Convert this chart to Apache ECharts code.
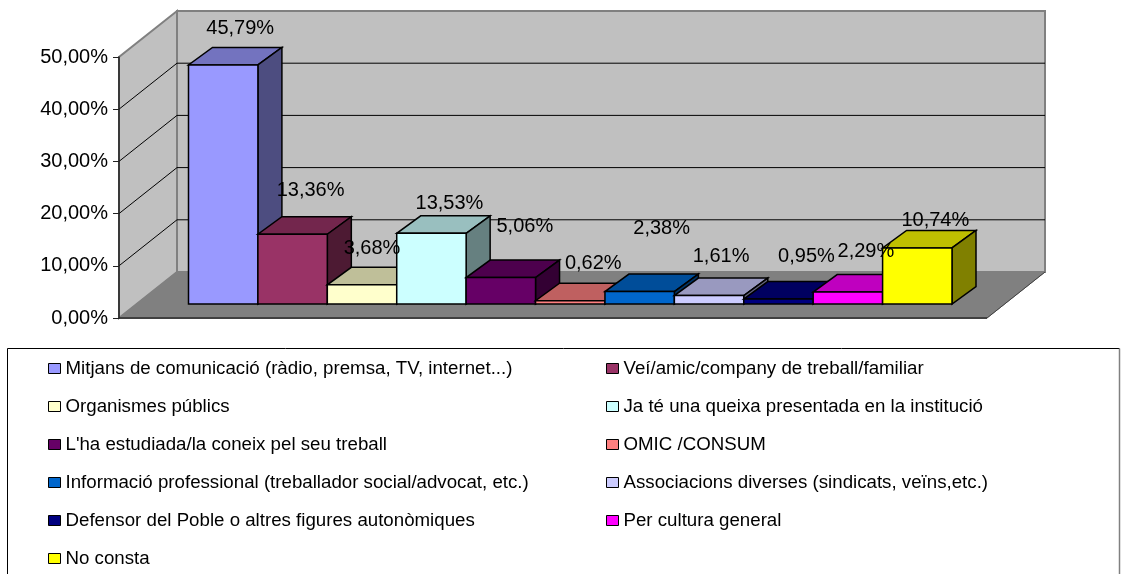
<!DOCTYPE html>
<html>
<head>
<meta charset="utf-8">
<script src="https://cdn.jsdelivr.net/npm/echarts@6/dist/echarts.min.js"></script>
<style>
  html, body { margin: 0; padding: 0; background: #fff; }
  #chart { width: 1122px; height: 574px; }
</style>
</head>
<body>
<div id="chart"></div>
<script>
const categories = [
  'Mitjans de comunicació (ràdio, premsa, TV, internet...)',
  'Veí/amic/company de treball/familiar',
  'Organismes públics',
  'Ja té una queixa presentada en la institució',
  "L'ha estudiada/la coneix pel seu treball",
  'OMIC /CONSUM',
  'Informació professional (treballador social/advocat, etc.)',
  'Associacions diverses (sindicats, veïns,etc.)',
  'Defensor del Poble o altres figures autonòmiques',
  'Per cultura general',
  'No consta'
];
const values = [45.79, 13.36, 3.68, 13.53, 5.06, 0.62, 2.38, 1.61, 0.95, 2.29, 10.74];
const ticks = [0, 10, 20, 30, 40, 50];

// front, top and side face of each bar
const frontColors = ['#9999FF', '#993366', '#FFFFCC', '#CCFFFF', '#660066', '#FF8080', '#0066CC', '#CCCCFF', '#000080', '#FF00FF', '#FFFF00'];
const topColors = ['#7373BF', '#73264D', '#BFBF99', '#99BFBF', '#4D004D', '#BF6060', '#004D99', '#9999BF', '#000060', '#BF00BF', '#BFBF00'];
const sideColors = ['#4D4D80', '#4D1A33', '#808066', '#668080', '#330033', '#804040', '#003366', '#666680', '#000040', '#800080', '#808000'];

// excel leaves the data labels wandering around, these are offsets from the top of each bar
const labelDx = [17, 18, 10, 18, 24, 23, 22, 12, 28, 18, 18];
const labelDy = [-36, -44, -36, -30, -51, -37, -63, -39, -43, -41, -27];

const WALL_DX = 58;
const WALL_DY = -46;
const BAR_DX = 24;
const BAR_DY = -17.5;
const FONT = '"Liberation Sans", Arial, sans-serif';

function percent(v) {
  return v.toFixed(2).replace('.', ',') + '%';
}

function poly(points, fill, stroke, lineWidth) {
  return {
    type: 'polygon',
    shape: { points: points },
    style: { fill: fill, stroke: stroke, lineWidth: lineWidth || 1, lineJoin: 'miter' }
  };
}

function renderWalls(params, api) {
  let cs = params.coordSys;
  let left = cs.x;
  let right = cs.x + cs.width;
  let y0 = api.coord([0, 0])[1];
  let yTop = api.coord([0, ticks[ticks.length - 1]])[1];
  let y = api.coord([0, api.value(1)])[1];
  let children = [];
  if (params.dataIndex === 0) {
    children.push(poly([[left + WALL_DX, y0 + WALL_DY], [right + WALL_DX, y0 + WALL_DY], [right + WALL_DX, yTop + WALL_DY], [left + WALL_DX, yTop + WALL_DY]], '#C0C0C0', '#808080', 2));
    children.push(poly([[left, y0], [left + WALL_DX, y0 + WALL_DY], [left + WALL_DX, yTop + WALL_DY], [left, yTop]], '#C0C0C0', '#808080', 2));
    children.push(poly([[left, y0], [right, y0], [right + WALL_DX, y0 + WALL_DY], [left + WALL_DX, y0 + WALL_DY]], '#808080', '#808080', 1));
    children.push({ type: 'line', shape: { x1: left, y1: y0, x2: right, y2: y0 }, style: { stroke: '#404040', lineWidth: 2 } });
    children.push({ type: 'line', shape: { x1: right, y1: y0, x2: right + WALL_DX, y2: y0 + WALL_DY }, style: { stroke: '#404040', lineWidth: 1 } });
  } else if (api.value(1) !== ticks[ticks.length - 1]) {
    children.push({
      type: 'polyline',
      shape: { points: [[left, y], [left + WALL_DX, y + WALL_DY], [right + WALL_DX, y + WALL_DY]] },
      style: { fill: null, stroke: '#000', lineWidth: 1 }
    });
  }
  return { type: 'group', children: children };
}

function renderBar(params, api) {
  let i = api.value(0);
  let v = api.value(1);
  let top = api.coord([i, v]);
  let bottom = api.coord([i, 0]);
  let w = api.size([1, 0])[0];
  let x1 = top[0] - w / 2;
  let x2 = top[0] + w / 2;
  let y1 = top[1];
  let y2 = bottom[1];
  return {
    type: 'group',
    children: [
      poly([[x1, y1], [x2, y1], [x2 + BAR_DX, y1 + BAR_DY], [x1 + BAR_DX, y1 + BAR_DY]], topColors[i], '#000', 1.5),
      poly([[x2, y1], [x2, y2], [x2 + BAR_DX, y2 + BAR_DY], [x2 + BAR_DX, y1 + BAR_DY]], sideColors[i], '#000', 1.5),
      poly([[x1, y1], [x2, y1], [x2, y2], [x1, y2]], frontColors[i], '#000', 1.5),
      {
        type: 'text',
        z2: 100,
        style: {
          x: top[0] + labelDx[i],
          y: y1 + labelDy[i],
          text: percent(v),
          fill: '#000',
          font: '20px ' + FONT,
          align: 'center',
          verticalAlign: 'middle'
        }
      }
    ]
  };
}

let series = [{
  name: 'walls',
  type: 'custom',
  xAxisIndex: 0,
  yAxisIndex: 0,
  silent: true,
  renderItem: renderWalls,
  data: ticks.map(t => [0, t])
}];

categories.forEach((name, i) => {
  series.push({
    name: name,
    type: 'custom',
    xAxisIndex: 1,
    yAxisIndex: 1,
    renderItem: renderBar,
    itemStyle: { color: frontColors[i] },
    data: [[i, values[i]]]
  });
});

function legendFor(left, names) {
  return {
    left: left,
    top: 359,
    orient: 'vertical',
    padding: 0,
    itemGap: 19,
    itemWidth: 12,
    itemHeight: 10,
    icon: 'rect',
    selectedMode: false,
    itemStyle: { borderColor: '#000', borderWidth: 1 },
    textStyle: { color: '#000', fontSize: 18.7, fontFamily: FONT },
    data: names
  };
}

let chart = echarts.init(document.getElementById('chart'));
chart.setOption({
  animation: false,
  backgroundColor: '#fff',
  grid: [
    { left: 119, top: 57, width: 868, height: 261 },
    { left: 188.5, top: 43, width: 763.5, height: 261 }
  ],
  xAxis: [
    { gridIndex: 0, type: 'category', data: ['wall'], show: false },
    { gridIndex: 1, type: 'category', data: categories, show: false }
  ],
  yAxis: [
    {
      gridIndex: 0,
      type: 'value',
      min: 0,
      max: 50,
      interval: 10,
      z: 10,
      axisLine: { show: true, lineStyle: { color: '#222', width: 1.5 } },
      axisTick: { show: true, length: 6, lineStyle: { color: '#222' } },
      splitLine: { show: false },
      axisLabel: { color: '#000', fontSize: 20, fontFamily: FONT, margin: 11, padding: [2, 0, 0, 0], formatter: percent }
    },
    { gridIndex: 1, type: 'value', min: 0, max: 50, interval: 10, show: false }
  ],
  legend: [
    legendFor(48, categories.filter((c, i) => i % 2 === 0)),
    legendFor(606, categories.filter((c, i) => i % 2 === 1))
  ],
  graphic: [{
    type: 'polyline',
    silent: true,
    shape: { points: [[7.5, 574], [7.5, 348.5], [1119.5, 348.5]] },
    style: { fill: null, stroke: '#000', lineWidth: 1 }
  }, {
    type: 'line',
    silent: true,
    shape: { x1: 1119.5, y1: 348.5, x2: 1119.5, y2: 574 },
    style: { stroke: '#808080', lineWidth: 1.5 }
  }],
  series: series
});
</script>
</body>
</html>
